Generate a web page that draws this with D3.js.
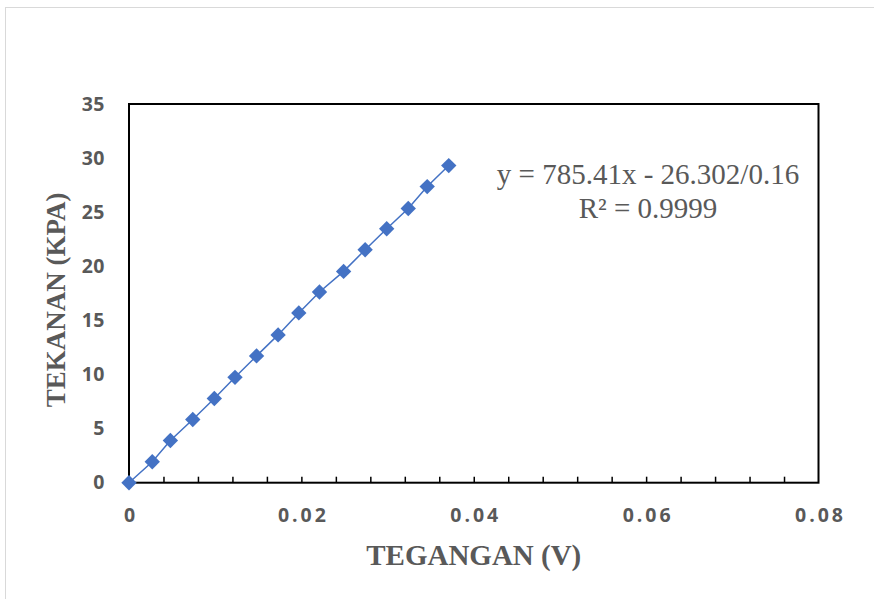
<!DOCTYPE html>
<html>
<head>
<meta charset="utf-8">
<script src="https://cdn.jsdelivr.net/npm/d3@7"></script>
<style>
  body { margin: 0; background: #fff; }
  svg { display: block; }
</style>
</head>
<body>
<svg id="visu" width="874" height="599"></svg>
<script>
// tegangan (V) vs tekanan (kPa)
var tegangan = [0, 0.0027, 0.0048, 0.0074, 0.0099, 0.0123, 0.0148, 0.0173, 0.0197,
                0.0221, 0.0249, 0.0274, 0.0299, 0.0324, 0.0346, 0.0371];
var tekanan = [0, 1.94, 3.90, 5.84, 7.78, 9.74, 11.72, 13.66, 15.69,
               17.62, 19.53, 21.53, 23.47, 25.34, 27.37, 29.31];
var xTicks = [0, 0.02, 0.04, 0.06, 0.08];
var yTicks = [0, 5, 10, 15, 20, 25, 30, 35];
var equation = ["y = 785.41x - 26.302/0.16", "R\u00b2 = 0.9999"];

var data = tegangan.map(function(v, i) { return {x: v, y: tekanan[i]}; });

var vis = d3.select("#visu"),
    MARGINS = {top: 104, right: 55, bottom: 116, left: 129},
    WIDTH = 874, HEIGHT = 599,
    GREY = "#595959",
    BLUE = "#4472C4";

var xScale = d3.scaleLinear().domain([0, 0.08]).range([MARGINS.left, WIDTH - MARGINS.right - 0.5]),
    yScale = d3.scaleLinear().domain([0, 35]).range([HEIGHT - MARGINS.bottom - 0.3, MARGINS.top]);

// outer chart border
vis.append("rect")
  .attr("x", 5.5).attr("y", 7.5)
  .attr("width", 1000).attr("height", 1000)
  .attr("fill", "none").attr("stroke", "#d9d9d9").attr("stroke-width", 1);

// plot frame
vis.append("rect")
  .attr("x", xScale(0)).attr("y", yScale(35))
  .attr("width", xScale(0.08) - xScale(0))
  .attr("height", yScale(0) - yScale(35))
  .attr("fill", "none").attr("stroke", "#000").attr("stroke-width", 2);

// minor ticks every 0.004, pointing inward
var minor = d3.range(1, 20).map(function(i) { return i * 0.004; });
vis.append("g")
  .attr("transform", "translate(0," + yScale(0) + ")")
  .call(d3.axisBottom(xScale).tickValues(minor).tickSize(-6).tickFormat(""))
  .call(function(g) {
    g.select(".domain").remove();
    g.selectAll("line").attr("stroke", "#000").attr("stroke-width", 1.5);
  });

var xAxis = d3.axisBottom(xScale)
  .tickValues(xTicks)
  .tickSize(0)
  .tickPadding(25)
  .tickFormat(function(d) { return d === 0 ? "0" : d.toFixed(2); });

vis.append("g")
  .attr("transform", "translate(0," + yScale(0) + ")")
  .call(xAxis)
  .call(function(g) {
    g.select(".domain").remove();
    g.selectAll("text")
      .attr("fill", GREY)
      .attr("font-family", "'Open Sans', sans-serif")
      .attr("font-weight", 700)
      .attr("font-size", 19.5)
      .attr("letter-spacing", 3)
      .attr("dx", 1.5);
  });

var yAxis = d3.axisLeft(yScale).tickValues(yTicks).tickSize(0).tickPadding(24);
vis.append("g")
  .attr("transform", "translate(" + xScale(0) + ",0)")
  .call(yAxis)
  .call(function(g) {
    g.select(".domain").remove();
    g.selectAll("text")
      .attr("fill", GREY)
      .attr("font-family", "'Open Sans', sans-serif")
      .attr("font-weight", 700)
      .attr("font-size", 19.5)
      .attr("letter-spacing", 0.5);
  });

// series
var lineGen = d3.line()
  .x(function(d) { return xScale(d.x); })
  .y(function(d) { return yScale(d.y); });

vis.append("path")
  .attr("d", lineGen(data))
  .attr("stroke", BLUE)
  .attr("stroke-width", 1.5)
  .attr("fill", "none");

vis.selectAll(".pt")
  .data(data)
  .enter().append("path")
  .attr("class", "pt")
  .attr("d", d3.symbol().type(d3.symbolSquare).size(118))
  .attr("transform", function(d) {
    return "translate(" + xScale(d.x) + "," + yScale(d.y) + ") rotate(45)";
  })
  .attr("fill", BLUE);

// trendline equation
vis.append("text")
  .attr("text-anchor", "middle")
  .attr("font-family", "'Liberation Serif', serif")
  .attr("font-size", 29)
  .attr("fill", GREY)
  .selectAll("tspan")
  .data(equation)
  .enter().append("tspan")
  .attr("x", 648)
  .attr("y", function(d, i) { return 184 + i * 34; })
  .text(function(d) { return d; });

// axis titles
vis.append("text")
  .attr("x", (xScale(0) + xScale(0.08)) / 2)
  .attr("y", 565)
  .attr("text-anchor", "middle")
  .attr("font-family", "'Liberation Serif', serif")
  .attr("font-weight", 700)
  .attr("font-size", 29)
  .attr("fill", GREY)
  .text("TEGANGAN (V)");

vis.append("text")
  .attr("transform", "translate(65," + 300 + ") rotate(-90)")
  .attr("text-anchor", "middle")
  .attr("font-family", "'Liberation Serif', serif")
  .attr("font-weight", 700)
  .attr("font-size", 27)
  .attr("fill", GREY)
  .text("TEKANAN (KPA)");
</script>
</body>
</html>
